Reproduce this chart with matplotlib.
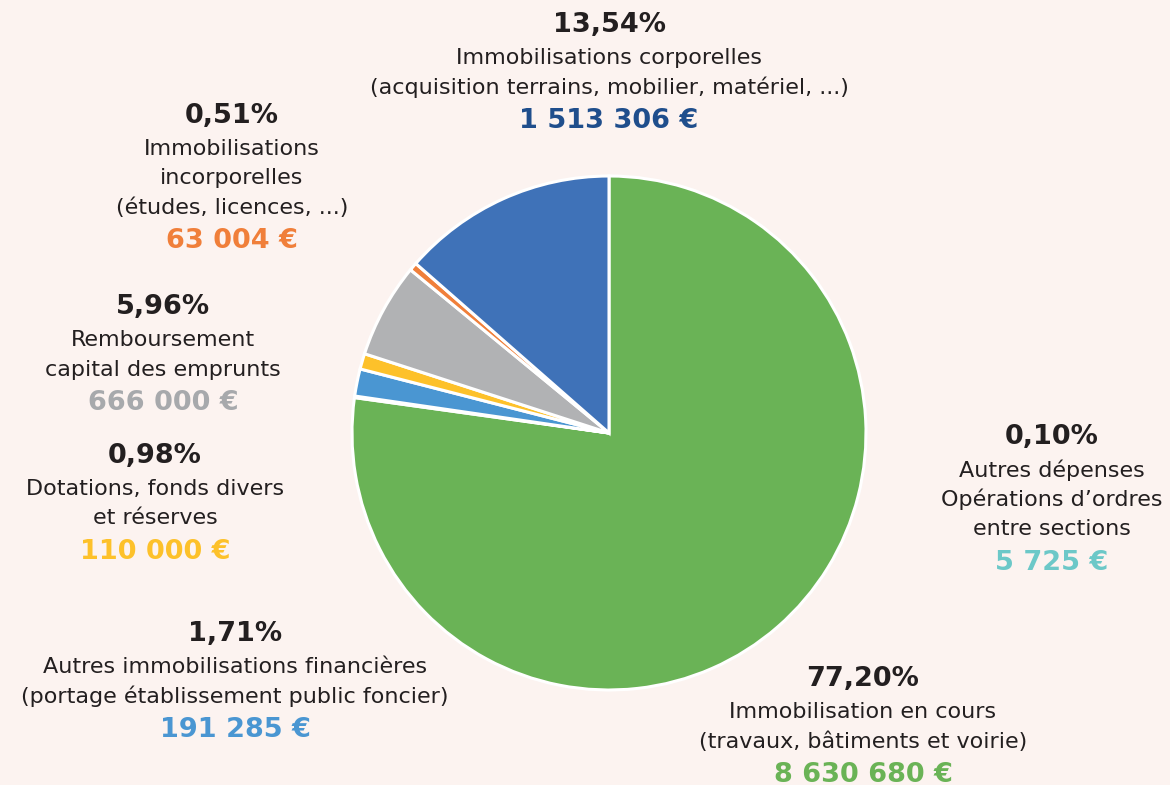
import matplotlib
matplotlib.use("Agg")
import matplotlib.pyplot as plt

# data (clockwise from 12 o'clock)
labels = ["Immobilisation en cours", "Autres dépenses", "Autres immobilisations financières",
          "Dotations, fonds divers", "Remboursement capital", "Immobilisations incorporelles",
          "Immobilisations corporelles"]
shares = [77.20, 0.10, 1.71, 0.98, 5.96, 0.51, 13.54]
pct_txt = ["77,20%", "0,10%", "1,71%", "0,98%", "5,96%", "0,51%", "13,54%"]
amounts = ["8 630 680 €", "5 725 €", "191 285 €", "110 000 €", "666 000 €", "63 004 €", "1 513 306 €"]
desc = [["Immobilisation en cours", "(travaux, bâtiments et voirie)"],
        ["Autres dépenses", "Opérations d\u2019ordres", "entre sections"],
        ["Autres immobilisations financières", "(portage établissement public foncier)"],
        ["Dotations, fonds divers", "et réserves"],
        ["Remboursement", "capital des emprunts"],
        ["Immobilisations", "incorporelles", "(études, licences, ...)"],
        ["Immobilisations corporelles", "(acquisition terrains, mobilier, matériel, ...)"]]
slice_colors = ["#6AB356", "#6CC8C8", "#4A96D2", "#FDC12A", "#B1B2B4", "#F07F3A", "#3F72B8"]
amount_colors = ["#6AB356", "#6CC8C8", "#4A96D2", "#FDC12A", "#A7A9AC", "#F07F3A", "#1F4E8C"]

# label block anchors (pixel x, pixel y of the percentage line)
anchors = [(863, 679), (1052, 437), (235, 634), (155, 456), (163, 307), (232, 116), (609, 25)]

W, H = 1170, 785
bg = "#FCF3F0"
dark = "#231F20"
plt.rcParams['font.family'] = ['DejaVu Sans']

fig = plt.figure(figsize=(W / 100, H / 100), dpi=100, facecolor=bg)
ax = fig.add_axes([0, 0, 1, 1])
ax.set_xlim(0, W)
ax.set_ylim(0, H)
ax.set_aspect('equal')
ax.axis('off')

ax.pie(shares, colors=slice_colors, startangle=90, counterclock=False,
       center=(609, H - 433), radius=257,
       wedgeprops=dict(edgecolor="white", linewidth=2.2))
ax.set_xlim(0, W)
ax.set_ylim(0, H)

line_h = 29.5
for i in range(len(shares)):
    x, y = anchors[i]
    ax.text(x, H - y, pct_txt[i], ha='center', va='center', fontsize=19.5,
            fontweight='bold', color=dark)
    yy = y + 33
    for ln in desc[i]:
        ax.text(x, H - yy, ln, ha='center', va='center', fontsize=16, color=dark)
        yy += line_h
    ax.text(x, H - (yy + 4), amounts[i], ha='center', va='center', fontsize=19.5,
            fontweight='bold', color=amount_colors[i])

fig.savefig("out.png", dpi=100, facecolor=bg)
